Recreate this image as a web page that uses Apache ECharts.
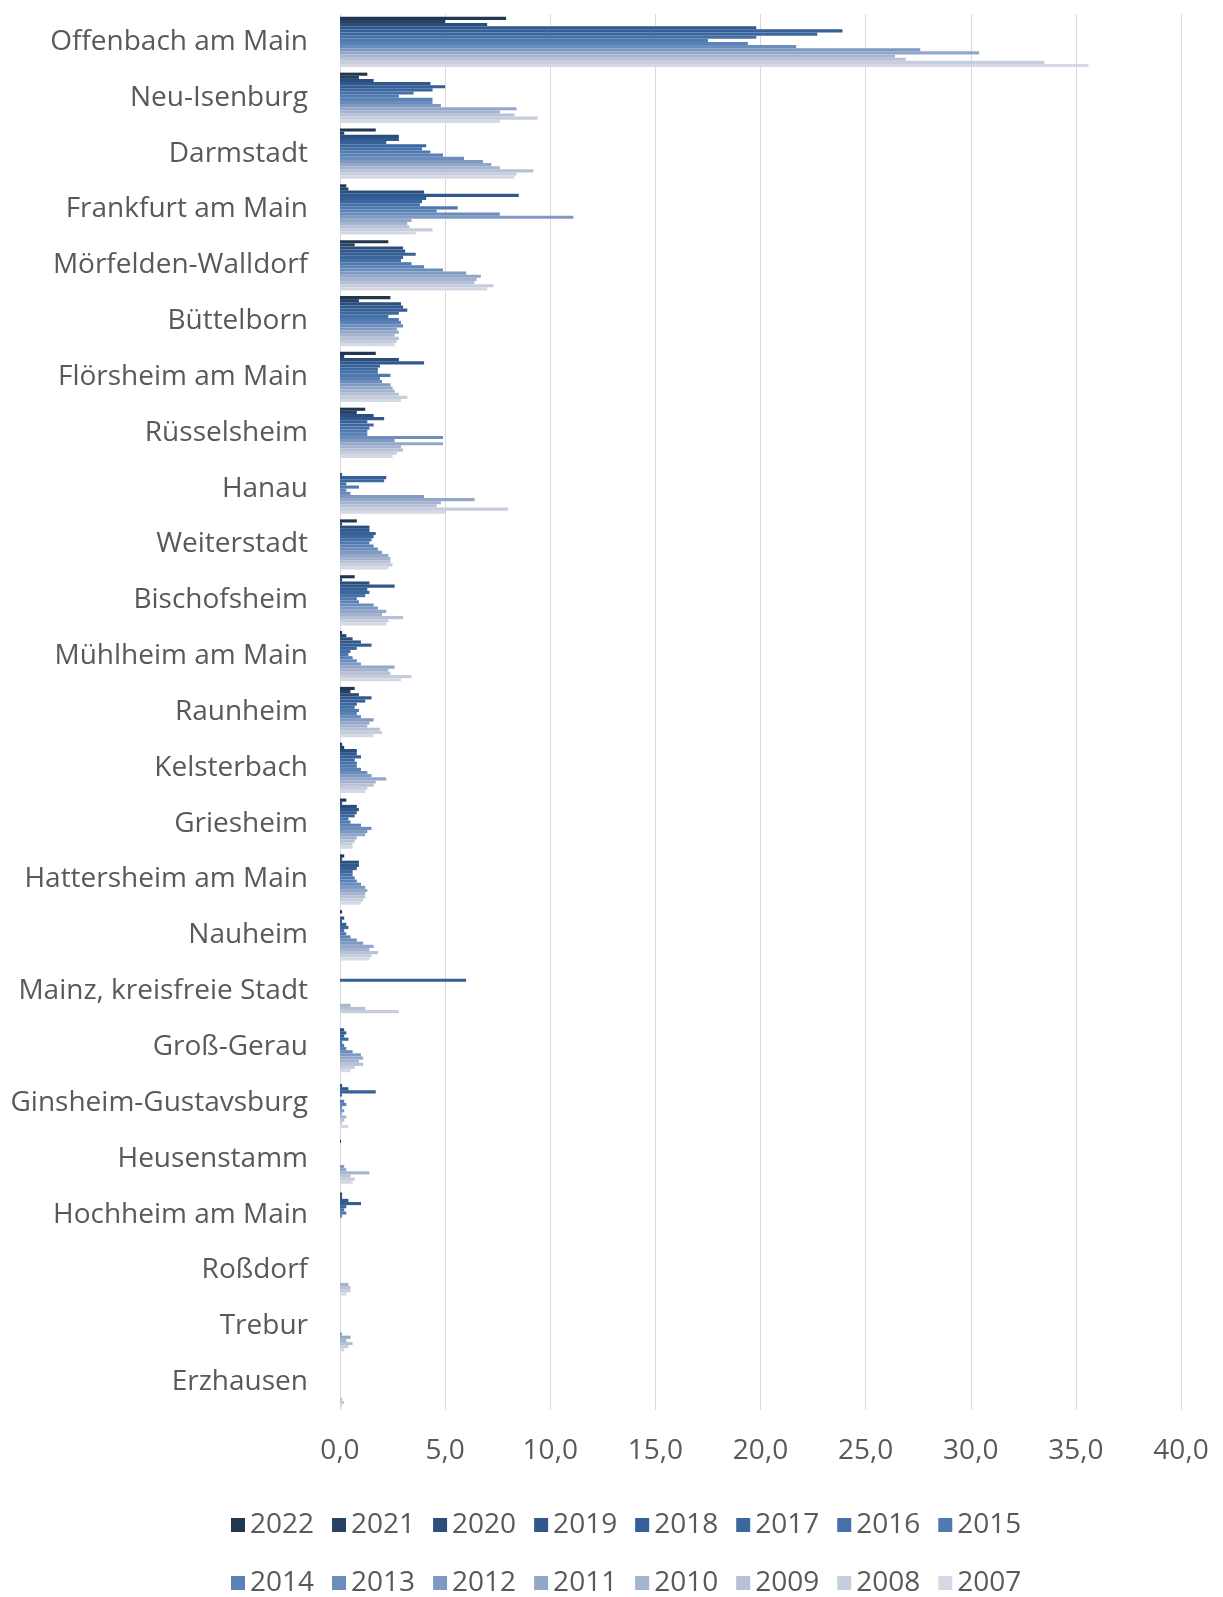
<!DOCTYPE html>
<html>
<head>
<meta charset="utf-8">
<script src="https://cdn.jsdelivr.net/npm/echarts@6/dist/echarts.min.js"></script>
<style>
html,body{margin:0;padding:0;background:#fff;}
#chart{width:1223px;height:1597px;}
</style>
</head>
<body>
<div id="chart"></div>
<script>
const categories = ["Offenbach am Main","Neu-Isenburg","Darmstadt","Frankfurt am Main","Mörfelden-Walldorf","Büttelborn","Flörsheim am Main","Rüsselsheim","Hanau","Weiterstadt","Bischofsheim","Mühlheim am Main","Raunheim","Kelsterbach","Griesheim","Hattersheim am Main","Nauheim","Mainz, kreisfreie Stadt","Groß-Gerau","Ginsheim-Gustavsburg","Heusenstamm","Hochheim am Main","Roßdorf","Trebur","Erzhausen"];
const years = ["2022","2021","2020","2019","2018","2017","2016","2015","2014","2013","2012","2011","2010","2009","2008","2007"];
const xTicks = [0,5,10,15,20,25,30,35,40];

// values per city, in year order 2022 ... 2007
const offenbach   = [7.9,5.0,7.0,19.8,23.9,22.7,19.8,17.5,19.4,21.7,27.6,30.4,26.4,26.9,33.5,35.6];
const neuIsenburg = [1.3,0.9,1.6,4.3,5.0,4.4,3.5,2.8,4.4,4.4,4.8,8.4,7.6,8.3,9.4,7.6];
const darmstadt   = [1.7,0.2,2.8,2.8,2.2,4.1,3.9,4.3,4.9,5.9,6.8,7.2,7.6,9.2,8.4,8.3];
const frankfurt   = [0.3,0.4,4.0,8.5,4.1,3.9,3.8,5.6,4.6,7.6,11.1,3.4,3.2,3.3,4.4,3.6];
const moerfelden  = [2.3,0.7,3.0,3.1,3.6,3.0,2.9,3.4,4.0,4.9,6.0,6.7,6.5,6.4,7.3,7.0];
const buettelborn = [2.4,0.9,2.9,3.0,3.2,2.8,2.3,2.8,2.9,3.0,2.7,2.8,2.6,2.8,2.7,2.6];
const floersheim  = [1.7,0.2,2.8,4.0,1.9,1.8,1.8,2.4,1.9,2.0,2.4,2.5,2.6,2.8,3.2,2.9];
const ruesselsheim= [1.2,0.8,1.6,2.1,1.3,1.6,1.4,1.3,1.3,4.9,2.6,4.9,2.9,3.0,2.7,2.5];
const hanau       = [0.0,0.0,0.0,0.1,2.2,2.1,0.3,0.9,0.3,0.5,4.0,6.4,4.8,4.6,8.0,5.0];
const weiterstadt = [0.8,0.1,1.4,1.4,1.7,1.6,1.5,1.4,1.6,1.8,2.0,2.3,2.4,2.4,2.5,2.3];
const bischofsheim= [0.7,0.1,1.4,2.6,1.3,1.4,1.2,0.8,0.9,1.6,1.8,2.2,2.0,3.0,2.3,2.2];
const muehlheim   = [0.1,0.3,0.6,1.0,1.5,0.8,0.5,0.4,0.6,0.8,1.0,2.6,2.3,2.4,3.4,2.9];
const raunheim    = [0.7,0.5,0.9,1.5,1.2,0.8,0.7,0.9,0.8,1.0,1.6,1.4,1.3,1.9,2.0,1.6];
const kelsterbach = [0.1,0.2,0.8,0.8,1.0,0.7,0.8,0.8,1.0,1.3,1.5,2.2,1.7,1.6,1.3,1.2];
const griesheim   = [0.3,0.1,0.8,0.9,0.8,0.7,0.4,0.5,1.0,1.5,1.3,1.2,0.8,0.7,0.6,0.6];
const hattersheim = [0.2,0.1,0.9,0.9,0.8,0.6,0.6,0.7,0.8,1.0,1.2,1.3,1.2,1.2,1.1,1.0];
const nauheim     = [0.1,0.0,0.2,0.1,0.3,0.4,0.2,0.3,0.5,0.8,1.1,1.6,1.4,1.8,1.5,1.4];
const mainz       = [0.0,0.0,0.0,0.0,6.0,0.0,0.0,0.0,0.0,0.0,0.0,0.0,0.5,1.2,2.8,0.0];
const grossGerau  = [0.0,0.0,0.2,0.3,0.2,0.4,0.1,0.2,0.3,0.6,1.0,1.1,0.9,1.1,0.7,0.5];
const ginsheim    = [0.0,0.0,0.1,0.4,1.7,0.1,0.0,0.2,0.3,0.1,0.2,0.1,0.3,0.2,0.1,0.4];
const heusenstamm = [0.0,0.0,0.05,0.0,0.0,0.0,0.0,0.0,0.0,0.0,0.2,0.3,1.4,0.5,0.7,0.6];
const hochheim    = [0.0,0.1,0.1,0.4,1.0,0.3,0.2,0.3,0.1,0.0,0.0,0.0,0.0,0.0,0.0,0.0];
const rossdorf    = [0.0,0.0,0.0,0.0,0.0,0.0,0.0,0.0,0.0,0.0,0.0,0.0,0.4,0.5,0.5,0.3];
const trebur      = [0.0,0.0,0.0,0.0,0.0,0.0,0.0,0.0,0.0,0.0,0.1,0.5,0.3,0.6,0.4,0.2];
const erzhausen   = [0.0,0.0,0.0,0.0,0.0,0.0,0.0,0.0,0.0,0.0,0.0,0.0,0.0,0.1,0.2,0.1];

const cityValues = [offenbach,neuIsenburg,darmstadt,frankfurt,moerfelden,buettelborn,floersheim,ruesselsheim,hanau,weiterstadt,bischofsheim,muehlheim,raunheim,kelsterbach,griesheim,hattersheim,nauheim,mainz,grossGerau,ginsheim,heusenstamm,hochheim,rossdorf,trebur,erzhausen];

const colors = ['#213650','#284262','#2c4e7c','#30588c','#355f96','#3b679f','#4570a8','#4f79af','#5a82b6','#6b8dbc','#7e9ac2','#93a7c8','#a5b3cf','#b6c0d6','#c6cddd','#d4d9e3'];

const FONT = 'Open Sans';
const TXT = '#595959';
const series = years.map((y, i) => ({
  name: y,
  type: 'bar',
  barGap: '0%',
  barCategoryGap: '10%',
  itemStyle: { color: colors[i] },
  data: cityValues.map(c => c[i])
}));

const legendCommon = { left: 226, itemWidth: 14, itemHeight: 14, itemGap: 18, icon: 'rect',
  textStyle: { fontFamily: FONT, fontSize: 28, color: TXT } };

const chart = echarts.init(document.getElementById('chart'), null, {renderer:'canvas'});
chart.setOption({
  animation: false,
  backgroundColor: '#ffffff',
  color: colors,
  grid: { left: 340, right: 42, top: 14, bottom: 187, containLabel: false },
  legend: [
    Object.assign({ data: years.slice(0,8), top: 1506 }, legendCommon),
    Object.assign({ data: years.slice(8), top: 1564 }, legendCommon)
  ],
  xAxis: {
    type: 'value', min: xTicks[0], max: xTicks[xTicks.length-1], interval: 5,
    axisLine: { show: false }, axisTick: { show: false },
    splitLine: { show: true, lineStyle: { color: '#d9d9d9', width: 1 } },
    axisLabel: { margin: 27, fontFamily: FONT, fontSize: 28, color: TXT,
      formatter: v => v.toFixed(1).replace('.', ',') }
  },
  yAxis: {
    type: 'category', data: categories, inverse: true,
    axisLine: { show: true, lineStyle: { color: '#d9d9d9', width: 1 } },
    axisTick: { show: false },
    axisLabel: { margin: 32, fontFamily: FONT, fontSize: 28, color: TXT }
  },
  series: series
});
</script>
</body>
</html>
